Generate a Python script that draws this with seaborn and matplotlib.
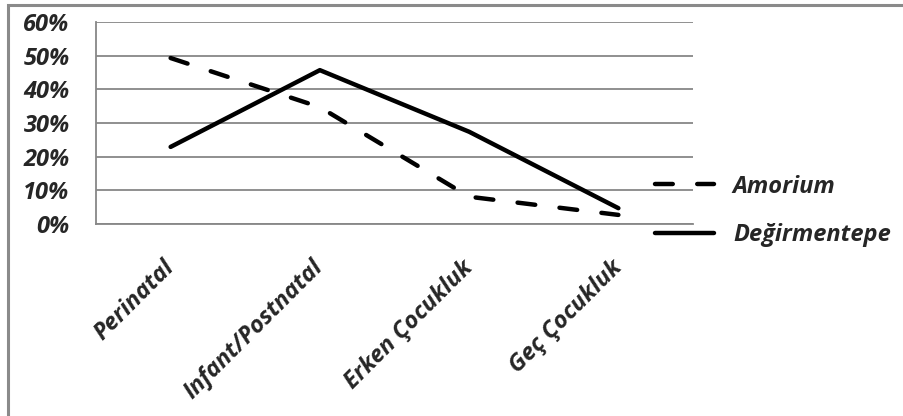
import pandas as pd
import matplotlib.pyplot as plt
import matplotlib.patches as mpatches
from matplotlib.ticker import FuncFormatter, FixedLocator
import seaborn as sns

categories = ['Perinatal', 'Infant/Postnatal', 'Erken Çocukluk', 'Geç Çocukluk']
amorium = [0.493, 0.347, 0.081, 0.027]
degirmentepe = [0.229, 0.457, 0.274, 0.047]
series_names = ['Amorium', 'Değirmentepe']
y_ticks = [0, 0.1, 0.2, 0.3, 0.4, 0.5, 0.6]

df = pd.DataFrame({
    'kategori': list(range(len(categories))) * 2,
    'oran': amorium + degirmentepe,
    'seri': [series_names[0]] * 4 + [series_names[1]] * 4,
})

sns.set_style('white')
plt.rcParams['font.family'] = ['Open Sans', 'DejaVu Sans']
plt.rcParams['lines.dash_capstyle'] = 'round'
plt.rcParams['lines.solid_capstyle'] = 'round'

grid_col = '#878787'
fig = plt.figure(figsize=(9.04, 4.16), dpi=100)
ax = fig.add_axes([96 / 904, 1 - 224 / 416, (693 - 96) / 904, (224 - 22) / 416])

# cerceve
fig.patches.append(mpatches.Rectangle((8 / 904, -0.05), 1.2, 1 - 5 / 416 + 0.05,
                                      transform=fig.transFigure, fill=False,
                                      edgecolor='#8a8a8a', linewidth=2.2))

sns.lineplot(data=df, x='kategori', y='oran', hue='seri', style='seri',
             palette={series_names[0]: 'black', series_names[1]: 'black'},
             dashes={series_names[0]: (4, 5.5), series_names[1]: ''},
             linewidth=3.2, ax=ax, legend=True)

ax.set_xlim(-0.5, len(categories) - 0.5)
ax.set_ylim(0, 0.6)
ax.yaxis.set_major_locator(FixedLocator(y_ticks))
ax.yaxis.set_major_formatter(FuncFormatter(lambda v, p: '{:.0f}%'.format(v * 100)))
ax.grid(axis='y', color=grid_col, linewidth=1.3)
ax.set_axisbelow(True)

# kategori eksen cizgileri kategoriler arasinda
ax.set_xticks([i for i in range(len(categories))])
ax.set_xticklabels(categories, rotation=45, ha='right', va='center', rotation_mode='anchor',
                   fontsize=17, fontweight='bold', fontstyle='italic')
ax.tick_params(axis='x', length=0, pad=29)
ax.set_xticks([i - 0.5 for i in range(len(categories) + 1)], minor=True)
ax.tick_params(axis='x', which='minor', length=6, width=1.3, color=grid_col, direction='out')
ax.tick_params(axis='y', length=6, width=1.3, color=grid_col, direction='out', pad=13)
for lab in ax.get_yticklabels():
    lab.set_fontsize(17)
    lab.set_fontweight('bold')
    lab.set_fontstyle('italic')

for side in ['top', 'right']:
    ax.spines[side].set_visible(False)
for side in ['left', 'bottom']:
    ax.spines[side].set_color(grid_col)
    ax.spines[side].set_linewidth(1.3)

ax.set_xlabel('')
ax.set_ylabel('')

handles, labels = ax.get_legend_handles_labels()
ax.legend(handles, labels, loc='center left', bbox_to_anchor=(655 / 904, 1 - 211 / 416),
          bbox_transform=fig.transFigure, frameon=False, borderpad=0, borderaxespad=0,
          handlelength=2.5, handletextpad=0.8, labelspacing=1.05,
          prop={'size': 17, 'weight': 'bold', 'style': 'italic'})

fig.savefig('out.png', dpi=100)
